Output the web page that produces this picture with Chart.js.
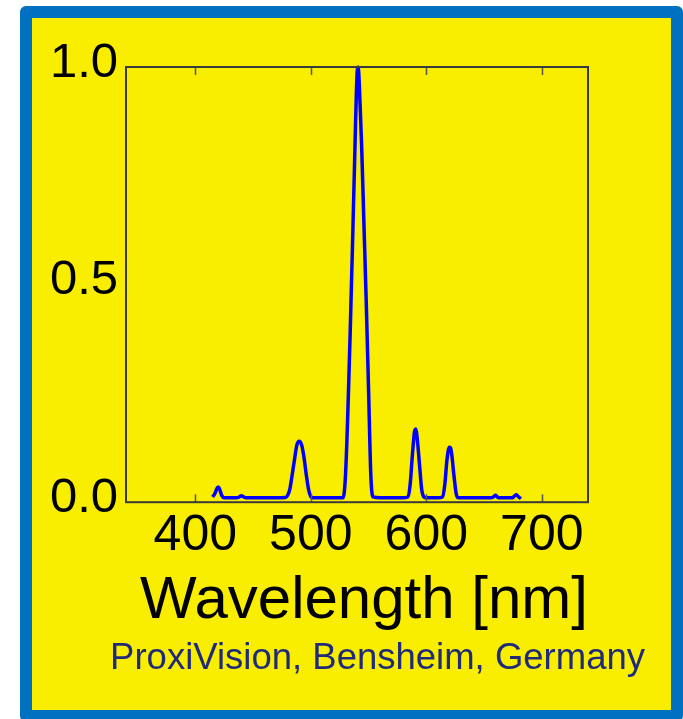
<!DOCTYPE html>
<html><head><meta charset="utf-8">
<script src="https://cdn.jsdelivr.net/npm/chart.js@4.4.1/dist/chart.umd.min.js"></script>
<style>
html,body{margin:0;padding:0;background:#fff;width:683px;height:719px;overflow:hidden}
#frame{position:absolute;left:20px;top:6px;width:663px;height:716px;box-sizing:border-box;border:12px solid #0070c0;border-radius:6px;background:#f9ed00}
canvas{position:absolute;left:0;top:0}
</style></head><body>
<div id="frame"></div>
<canvas id="c" width="683" height="719"></canvas>
<script>
const wavelengths = [415,417,419,420,421,423,425,430,436,438,440,442,444,450,460,470,478,480,482,484,486,488,490,492,494,496,498,500,502,510,520,528,530,532,534,536,538,540,541,542,544,546,548,550,552,554,560,570,580,584,586,588,590,591,592,594,596,598,600,610,614,616,618,620,621,622,624,626,628,630,640,650,656,658,660,662,664,670,674,676,678,680,682];
const intensity = [0.012,0.02,0.033,0.035,0.03,0.015,0.01,0.01,0.01,0.012,0.015,0.012,0.01,0.01,0.01,0.01,0.011,0.016,0.032,0.065,0.1,0.132,0.14,0.132,0.105,0.065,0.03,0.013,0.01,0.01,0.01,0.01,0.06,0.2,0.38,0.58,0.79,0.98,1.0,0.96,0.82,0.64,0.46,0.26,0.06,0.012,0.01,0.01,0.01,0.012,0.04,0.11,0.165,0.168,0.15,0.09,0.03,0.012,0.01,0.01,0.012,0.04,0.1,0.126,0.125,0.11,0.06,0.018,0.01,0.01,0.01,0.01,0.01,0.012,0.016,0.011,0.01,0.01,0.01,0.013,0.017,0.012,0.008];
const xTickValues = [400,500,600,700];
const yTickValues = [0,0.5,1.0];
const xTitle = 'Wavelength [nm]';
const credit = 'ProxiVision, Bensheim, Germany';

const FONT = "'Liberation Sans', Arial, sans-serif";

const frameTicks = {
  id:'frameTicks',
  afterDatasetsDraw(chart){
    const {ctx, chartArea:a, scales:{x}} = chart;
    ctx.save();
    ctx.strokeStyle='#555'; ctx.lineWidth=1.5;
    xTickValues.forEach(v=>{
      const px = Math.round(x.getPixelForValue(v))+0.5;
      ctx.beginPath();
      ctx.moveTo(px,a.bottom); ctx.lineTo(px,a.bottom-8);
      ctx.moveTo(px,a.top); ctx.lineTo(px,a.top+8);
      ctx.stroke();
    });
    ctx.strokeStyle='#3a3a3a'; ctx.lineWidth=2;
    ctx.strokeRect(a.left,a.top,a.right-a.left,a.bottom-a.top);
    ctx.restore();
  }
};

new Chart(document.getElementById('c'), {
  type:'line',
  data:{datasets:[{
    data: wavelengths.map((w,i)=>({x:w,y:intensity[i]})),
    borderColor:'#0000ff', borderWidth:3.5, pointRadius:0,
    cubicInterpolationMode:'monotone', fill:false, clip:false
  }]},
  options:{
    responsive:false, animation:false, devicePixelRatio:1,
    layout:{padding:{left:0,right:38,top:67,bottom:38}},
    plugins:{
      legend:{display:false}, tooltip:{enabled:false},
      title:{display:true, text:credit, position:'bottom', align:'end', color:'#1f2a78',
        font:{size:36.5,family:FONT,weight:'normal'}, padding:{top:0,bottom:0}}
    },
    scales:{
      x:{type:'linear', min:340, max:740,
        afterBuildTicks:s=>{s.ticks = xTickValues.map(v=>({value:v}));},
        ticks:{font:{size:50,family:FONT}, color:'#000', padding:4, autoSkip:false, maxRotation:0, callback:v=>String(v)},
        grid:{display:false, drawTicks:false}, border:{display:false},
        title:{display:true, text:xTitle, align:'end', color:'#000', font:{size:60,family:FONT}, padding:{top:0,bottom:0}},
        afterFit:s=>{s.height=135;}
      },
      y:{type:'linear', min:0, max:1,
        afterBuildTicks:s=>{s.ticks = yTickValues.map(v=>({value:v}));},
        ticks:{font:{size:49,family:FONT}, color:'#000', padding:8, labelOffset:-4, callback:v=>Number(v).toFixed(1)},
        grid:{display:false, drawTicks:false}, border:{display:false},
        afterFit:s=>{s.width=126;}
      },
      yR:{type:'linear', axis:'y', position:'right', display:true,
        ticks:{display:false}, grid:{display:false, drawTicks:false}, border:{display:false},
        afterFit:s=>{s.width=57;}
      }
    }
  },
  plugins:[frameTicks]
});
</script>
</body></html>
